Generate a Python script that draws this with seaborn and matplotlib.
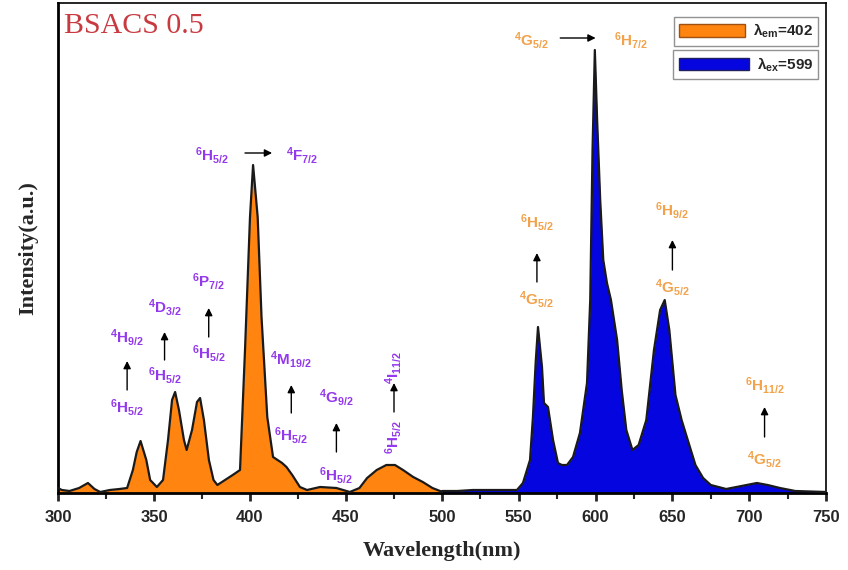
import numpy as np
import pandas as pd
import matplotlib
matplotlib.use("Agg")
import matplotlib.pyplot as plt
from matplotlib.patches import Patch
from matplotlib.ticker import MultipleLocator
import seaborn as sns

# ---------------- data ----------------
exc_wl = [300, 302, 306, 311, 315.6, 319, 322, 327, 332, 336, 339, 341, 343, 346, 348,
          351.5, 354.7, 357.3, 359.4, 361, 363, 365.6, 367, 369.8, 372.4, 374, 376,
          378.6, 381, 383, 387, 391, 394.8, 397.4, 400, 401.6, 404, 406, 409, 412,
          416.7, 419, 422, 426, 429.7, 436.5, 445, 452, 457, 461, 466, 471, 475.5,
          479.7, 485, 490, 495, 499, 500]
exc_int = [4, 2, 1, 4, 9, 3, 0, 2, 3, 4, 22, 40, 51, 32, 12,
           5, 12, 52, 92, 100, 82, 52, 42, 62, 90, 94, 72,
           32, 12, 7, 12, 17, 22, 142, 275, 327, 275, 175, 75, 35,
           29, 25, 17, 5, 2, 5, 4, 0, 4, 14, 22, 27, 27,
           22, 15, 10, 4, 1, 0]

emi_wl = [500, 510, 520, 540, 548.8, 552.7, 557.3, 559.2, 561, 562.5, 565.1, 566.4,
          569, 572.3, 575.5, 578, 581.4, 585.3, 589.8, 594.4, 596.5, 598, 599.5,
          601, 603, 605, 607.4, 610, 614, 617, 620, 624, 628, 633, 638, 642, 645,
          648, 652, 656, 660, 665, 670, 675, 685, 695, 705, 712, 720, 730, 750]
emi_int = [1, 1, 2, 2, 2, 9, 32, 75, 130, 165, 125, 89,
           85, 52, 29, 27, 27, 35, 59, 109, 192, 342, 442,
           372, 292, 232, 209, 192, 152, 102, 62, 42, 47, 72, 142, 182, 192,
           162, 97, 72, 52, 27, 14, 7, 3, 6, 9, 7, 4, 1, 0]

legend_labels = [r"$\lambda_{em}$=402", r"$\lambda_{ex}$=599"]
x_ticks = [300, 350, 400, 450, 500, 550, 600, 650, 700, 750]

# vertical transitions: (x, lower label, y_lower, upper label, y_upper, arrow y0, arrow y1, color, rotated)
PURPLE = "#9438ec"
ORANGE_T = "#f2a24a"
vert = [
    (336.0, r"$^6$H$_{5/2}$", 84, r"$^4$H$_{9/2}$", 155, 102, 131, PURPLE, False),
    (355.5, r"$^6$H$_{5/2}$", 117, r"$^4$D$_{3/2}$", 184, 132, 160, PURPLE, False),
    (378.5, r"$^6$H$_{5/2}$", 139, r"$^6$P$_{7/2}$", 210, 155, 184, PURPLE, False),
    (421.5, r"$^6$H$_{5/2}$", 57, r"$^4$M$_{19/2}$", 132, 79, 107, PURPLE, False),
    (445.0, r"$^6$H$_{5/2}$", 17, r"$^4$G$_{9/2}$", 94, 40, 69, PURPLE, False),
    (475.0, r"$^6$H$_{5/2}$", 55, r"$^4$I$_{11/2}$", 125, 80, 109, PURPLE, True),
    (561.8, r"$^4$G$_{5/2}$", 192, r"$^6$H$_{5/2}$", 270, 210, 239, ORANGE_T, False),
    (650.0, r"$^4$G$_{5/2}$", 205, r"$^6$H$_{9/2}$", 282, 222, 252, ORANGE_T, False),
    (710.0, r"$^4$G$_{5/2}$", 32, r"$^6$H$_{11/2}$", 107, 55, 85, ORANGE_T, False),
]
# horizontal transitions: (left label, x_left, right label, x_right, y, arrow x0, arrow x1, color)
horiz = [
    (r"$^6$H$_{5/2}$", 380, r"$^4$F$_{7/2}$", 427, 337, 397.4, 411.5, PURPLE),
    (r"$^4$G$_{5/2}$", 558, r"$^6$H$_{7/2}$", 623, 452, 577, 600, ORANGE_T),
]

# ---------------- styling ----------------
sns.set_theme(style="white")
plt.rcParams["font.family"] = ["Liberation Sans", "DejaVu Sans"]
plt.rcParams["mathtext.default"] = "regular"

fig = plt.figure(figsize=(8.48, 5.70), dpi=100)
ax = fig.add_axes([58 / 848, 77 / 570, 768 / 848, 490 / 570])

def fwd(x):
    x = np.asarray(x, dtype=float)
    return np.where(x < 500, (x - 300) / 200.0, 1 + (x - 500) / 250.0)

def inv(u):
    u = np.asarray(u, dtype=float)
    return np.where(u < 1, 300 + 200.0 * u, 500 + 250.0 * (u - 1))

ax.set_xscale("function", functions=(fwd, inv))

exc = pd.DataFrame({"wl": exc_wl, "I": exc_int})
emi = pd.DataFrame({"wl": emi_wl, "I": emi_int})

ax.fill_between(exc["wl"], exc["I"], -1, color="#ff8410", lw=0, zorder=2)
ax.fill_between(emi["wl"], emi["I"], -1, color="#0505e0", lw=0, zorder=2)
sns.lineplot(data=exc, x="wl", y="I", ax=ax, color="#1a1a1a", lw=1.6, zorder=3, sort=False)
sns.lineplot(data=emi, x="wl", y="I", ax=ax, color="#1a1a1a", lw=1.6, zorder=3, sort=False)

ax.set_xlim(300, 750)
ax.set_ylim(-1, 489)
ax.set_xticks(x_ticks)
ax.set_xticklabels([str(t) for t in x_ticks], fontsize=12, fontweight="bold")
ax.xaxis.set_minor_locator(MultipleLocator(25))
ax.tick_params(axis="x", which="major", direction="out", length=6, width=2, bottom=True, pad=6)
ax.tick_params(axis="x", which="minor", direction="out", length=4, width=1.5, bottom=True)
ax.set_yticks([])
for s in ax.spines.values():
    s.set_color("black")
    s.set_linewidth(1.2)
ax.spines["left"].set_linewidth(2)
ax.spines["bottom"].set_linewidth(2)

ax.set_xlabel("Wavelength(nm)", family="Liberation Serif", fontweight="bold", fontsize=16, labelpad=12)
ax.set_ylabel("Intensity(a.u.)", family="Liberation Serif", fontweight="bold", fontsize=16, labelpad=14)

ax.text(0.008, 0.953, "BSACS 0.5", transform=ax.transAxes, family="Liberation Serif",
        fontsize=21.5, color="#c83a40", ha="left", va="center")

tkw = dict(fontsize=11, fontweight="bold", ha="center", va="center")
akw = dict(arrowstyle="-|>", color="black", lw=1.0, mutation_scale=11, shrinkA=0, shrinkB=0)
for x, lo, ylo, up, yup, a0, a1, col, rot in vert:
    r = 90 if rot else 0
    ax.text(x, ylo, lo, color=col, rotation=r, **tkw)
    ax.text(x, yup, up, color=col, rotation=r, **tkw)
    ax.annotate("", xy=(x, a1), xytext=(x, a0), arrowprops=akw)
for lt, xl, rt, xr, y, a0, a1, col in horiz:
    ax.text(xl, y, lt, color=col, **tkw)
    ax.text(xr, y, rt, color=col, **tkw)
    ax.annotate("", xy=(a1, y + 2), xytext=(a0, y + 2), arrowprops=akw)

lkw = dict(loc="upper right", frameon=True, fancybox=False, edgecolor="#777777",
           borderaxespad=0, handleheight=0.9, borderpad=0.35,
           handletextpad=0.5, prop={"weight": "bold", "size": 11})
h1 = Patch(facecolor="#ff8410", edgecolor="#a05010")
h2 = Patch(facecolor="#0505e0", edgecolor="#202060")
leg1 = ax.legend([h1], [legend_labels[0]], bbox_to_anchor=(0.990, 0.972), handlelength=4.3, **lkw)
ax.add_artist(leg1)
leg2 = ax.legend([h2], [legend_labels[1]], bbox_to_anchor=(0.990, 0.904), handlelength=4.6, **lkw)

fig.savefig("out.png", dpi=100)
